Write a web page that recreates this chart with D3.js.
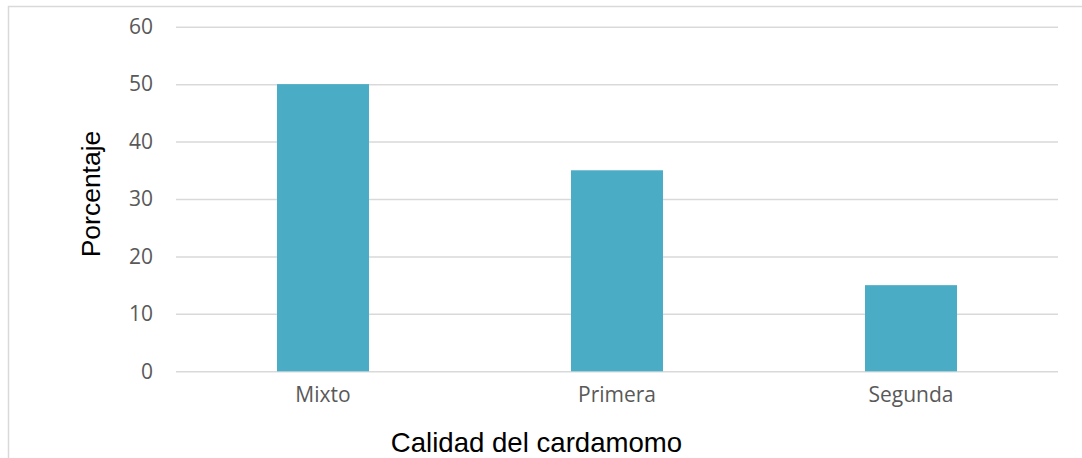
<!DOCTYPE html>
<html><head><meta charset="utf-8">
<script src="https://cdn.jsdelivr.net/npm/d3@7"></script>
<style>body{margin:0;background:#fff}svg{display:block}</style>
</head><body>
<svg id="c" width="1082" height="458"></svg>
<script>
const categories = ["Mixto", "Primera", "Segunda"];
const values = [50, 35, 15];
const yTicks = [0, 10, 20, 30, 40, 50, 60];
const xTitle = "Calidad del cardamomo";
const yTitle = "Porcentaje";

const svg = d3.select("#c");
const W = 1082, H = 458;
const m = {left: 176, right: 1058, top: 26.7, bottom: 371.3};

svg.append("rect").attr("x", 8.5).attr("y", 6.5).attr("width", W).attr("height", H)
  .attr("fill", "#fff").attr("stroke", "#d9d9d9").attr("stroke-width", 1.5);

const x = d3.scaleBand().domain(categories).range([m.left, m.right]).paddingInner(0.687).paddingOuter(0.3435);
const y = d3.scaleLinear().domain([0, 60]).range([m.bottom, m.top]);

const yAxis = d3.axisLeft(y).tickValues(yTicks).tickSize(-(m.right - m.left)).tickPadding(23);
const gy = svg.append("g").attr("transform", `translate(${m.left},0)`).call(yAxis);
gy.select(".domain").remove();
gy.selectAll(".tick line").attr("stroke", "#d9d9d9").attr("stroke-width", 1.5);
gy.selectAll(".tick text").attr("fill", "#595959").style("font-family", "'Open Sans'").style("font-size", "21px");

svg.append("g").selectAll("rect").data(values).join("rect")
  .attr("x", (d, i) => x(categories[i]))
  .attr("width", x.bandwidth())
  .attr("y", d => y(d))
  .attr("height", d => y(0) - y(d))
  .attr("fill", "#4BACC6");

const xAxis = d3.axisBottom(x).tickSize(0).tickPadding(16);
const gx = svg.append("g").attr("transform", `translate(0,${m.bottom})`).call(xAxis);
gx.select(".domain").remove();
gx.selectAll(".tick text").attr("fill", "#595959").style("font-family", "'Open Sans'").style("font-size", "21px");

svg.append("text").attr("x", 536.5).attr("y", 452).attr("text-anchor", "middle")
  .style("font-family", "'Liberation Sans', Arial").style("font-size", "27.6px").attr("fill", "#000").text(xTitle);
svg.append("text").attr("transform", "translate(99.5,194) rotate(-90)").attr("text-anchor", "middle")
  .style("font-family", "'Liberation Sans', Arial").style("font-size", "26.5px").attr("fill", "#000").text(yTitle);
</script>
</body></html>
